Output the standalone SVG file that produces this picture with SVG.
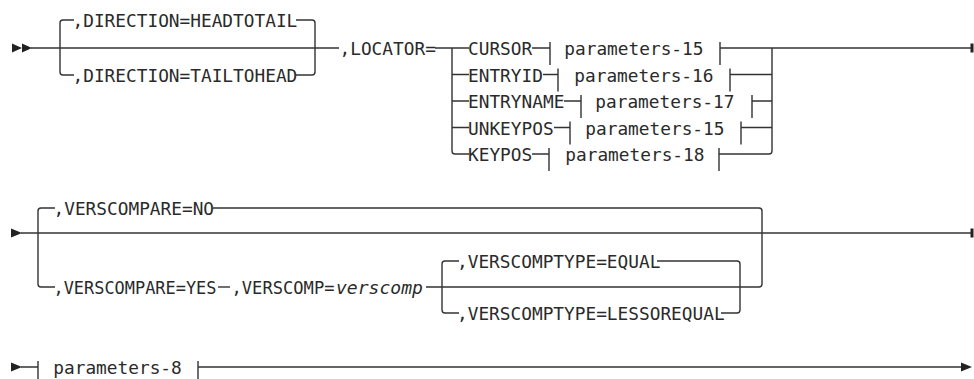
<svg xmlns="http://www.w3.org/2000/svg" width="974" height="379" viewBox="0 0 974 379">
<style>
.t{font-family:"DejaVu Sans Mono","Liberation Mono",monospace;font-size:17.8px;fill:#2a2a2a}
.i{font-style:italic}
.l{stroke:#333;stroke-width:1.4;fill:none}
.a{fill:#222}
</style>
<rect width="974" height="379" fill="#fff"/>
<g id="connectors">
  <!-- row 1 -->
  <polygon class="a" points="12,43.5 22,48 12,52.5"/>
  <polygon class="a" points="22,43.5 32,48 22,52.5"/>
  <path class="l" d="M31 48 H339"/>
  <path class="l" d="M74 20 H63 A3 3 0 0 0 60 23 V72 A3 3 0 0 0 63 75 H74"/>
  <path class="l" d="M296 20 H312 A3 3 0 0 1 315 23 V72 A3 3 0 0 1 312 75 H296"/>
  <path class="l" d="M435 48 H469"/>
  <path class="l" d="M452 48 V151 A3 3 0 0 0 455 154 H469"/>
  <path class="l" d="M452 74.5 H469 M452 101 H469 M452 127.5 H469"/>
  <path class="l" d="M532 48 H550 M543 74.5 H558 M564 101 H581 M554 127.5 H570 M532 154 H549"/>
  <path class="l" d="M550 42 V65 M558 68.5 V91.5 M581 95 V118 M570 121.5 V144.5 M549 148 V171"/>
  <path class="l" d="M720 42 V65 M730 68.5 V91.5 M752 95 V118 M741 121.5 V144.5 M719 148 V171"/>
  <path class="l" d="M720 48 H971"/>
  <path class="l" d="M772 48 V151 A3 3 0 0 1 769 154 H719"/>
  <path class="l" d="M730 74.5 H772 M752 101 H772 M741 127.5 H772"/>
  <rect class="a" x="970.5" y="43.5" width="3" height="9"/>
  <!-- row 2 -->
  <polygon class="a" points="11,228.5 22,233 11,237.5"/>
  <path class="l" d="M21 233 H971"/>
  <path class="l" d="M55 208 H41 A3 3 0 0 0 38 211 V284 A3 3 0 0 0 41 287 H55"/>
  <path class="l" d="M213 208 H759 A3 3 0 0 1 762 211 V284 A3 3 0 0 1 759 287 H426"/>
  <path class="l" d="M218 287 H230"/>
  <path class="l" d="M459 261 H445 A3 3 0 0 0 442 264 V310 A3 3 0 0 0 445 313 H459"/>
  <path class="l" d="M657 261 H737 A3 3 0 0 1 740 264 V310 A3 3 0 0 1 737 313 H721"/>
  <rect class="a" x="970.5" y="228.5" width="3" height="9"/>
  <!-- row 3 -->
  <polygon class="a" points="11,362.5 22,367 11,371.5"/>
  <path class="l" d="M21 367 H38 M38 361 V384 M198 361 V384 M198 367 H962"/>
  <polygon class="a" points="961,362.5 972,367 961,371.5"/>
</g>
<g id="dir-headtotail"><text class="t" x="72.5" y="27">,DIRECTION=HEADTOTAIL</text></g>
<g id="dir-tailtohead"><text class="t" x="72.5" y="82">,DIRECTION=TAILTOHEAD</text></g>
<g id="locator"><text class="t" x="339.5" y="55">,LOCATOR=</text></g>
<g id="cursor"><text class="t" x="468" y="55">CURSOR</text><text class="t" x="564.3" y="55">parameters-15</text></g>
<g id="entryid"><text class="t" x="468" y="81.5">ENTRYID</text><text class="t" x="574.3" y="81.5">parameters-16</text></g>
<g id="entryname"><text class="t" x="468" y="108">ENTRYNAME</text><text class="t" x="595.3" y="108">parameters-17</text></g>
<g id="unkeypos"><text class="t" x="468" y="134.5">UNKEYPOS</text><text class="t" x="585.3" y="134.5">parameters-15</text></g>
<g id="keypos"><text class="t" x="468" y="161">KEYPOS</text><text class="t" x="565.3" y="161">parameters-18</text></g>
<g id="verscompare-no"><text class="t" x="53.5" y="215">,VERSCOMPARE=NO</text></g>
<g id="verscompare-yes"><text class="t" x="53.5" y="294" textLength="163" lengthAdjust="spacingAndGlyphs">,VERSCOMPARE=YES</text></g>
<g id="verscomp"><text class="t" x="231.5" y="294" textLength="103" lengthAdjust="spacingAndGlyphs">,VERSCOMP=</text><text class="t i" x="336" y="294" textLength="87" lengthAdjust="spacingAndGlyphs">verscomp</text></g>
<g id="verscomptype-equal"><text class="t" x="457" y="268">,VERSCOMPTYPE=EQUAL</text></g>
<g id="verscomptype-lessorequal"><text class="t" x="457" y="320">,VERSCOMPTYPE=LESSOREQUAL</text></g>
<g id="parameters-8"><text class="t" x="53.3" y="374">parameters-8</text></g>
</svg>
